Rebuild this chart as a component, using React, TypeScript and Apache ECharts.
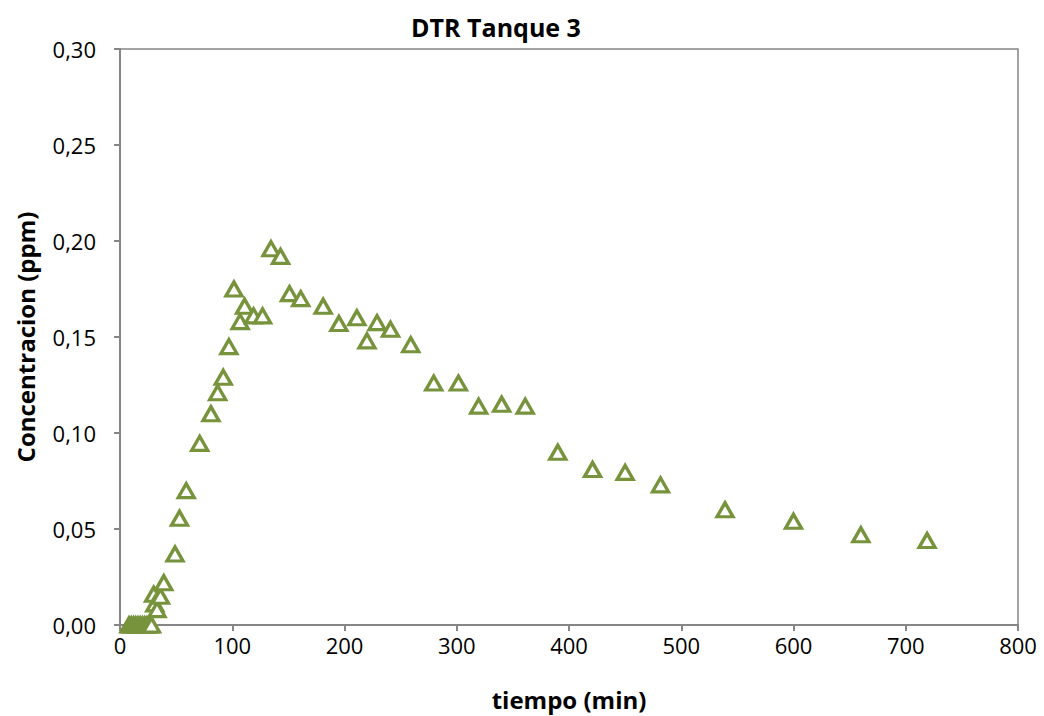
import React, { useEffect, useRef } from "react";
import * as echarts from "echarts";

const timeMin: number[] = [
  8, 10, 12, 14, 16, 18, 20, 22, 24, 26, 28,
  30, 31, 33, 36, 39, 49, 53, 59, 71, 81, 87, 92, 97, 101.5, 107, 111, 119, 127,
  134.5, 143, 151, 161, 181, 195, 211, 220, 229, 241, 259, 279.5, 301.5, 319.5,
  340, 361, 390, 421, 450, 481.5, 539, 600, 660, 719,
];
const concentration: number[] = [
  0, 0, 0, 0, 0, 0, 0, 0, 0, 0, 0,
  0.016, 0.011, 0.008, 0.015, 0.022, 0.037, 0.0556, 0.07, 0.0946, 0.11, 0.121, 0.129, 0.145, 0.175, 0.158, 0.166, 0.161, 0.161,
  0.196, 0.192, 0.1726, 0.17, 0.166, 0.157, 0.16, 0.148, 0.1575, 0.154, 0.146, 0.126, 0.126, 0.114,
  0.115, 0.114, 0.09, 0.081, 0.0795, 0.073, 0.06, 0.054, 0.047, 0.044,
];
const xTicks = { min: 0, max: 800, interval: 100 };
const yTicks = { min: 0, max: 0.3, interval: 0.05 };

const FONT = "'Open Sans', 'Noto Sans', sans-serif";
const AXIS_GRAY = "#868686";

export default function App() {
  const ref = useRef<HTMLDivElement>(null);
  useEffect(() => {
    if (!ref.current) return;
    const chart = echarts.init(ref.current, undefined, { renderer: "svg" });
    const data = timeMin.map((t, i) => [t, concentration[i]]);
    chart.setOption({
      animation: false,
      backgroundColor: "#ffffff",
      title: {
        text: "DTR Tanque 3",
        left: 491,
        textAlign: "center",
        top: 9,
        textStyle: { fontFamily: FONT, fontSize: 25, fontWeight: "bold", color: "#000" },
      },
      grid: {
        left: 120,
        right: 26,
        top: 49,
        bottom: 90,
        show: true,
        borderColor: AXIS_GRAY,
        borderWidth: 1.5,
        backgroundColor: "transparent",
      },
      xAxis: {
        type: "value",
        min: xTicks.min,
        max: xTicks.max,
        interval: xTicks.interval,
        name: "tiempo (min)",
        nameLocation: "middle",
        nameGap: 62,
        nameTextStyle: { fontFamily: FONT, fontSize: 24, fontWeight: "bold", color: "#000" },
        axisLine: { show: true, lineStyle: { color: AXIS_GRAY, width: 2 } },
        axisTick: { show: true, inside: false, length: 6, lineStyle: { color: AXIS_GRAY, width: 2 } },
        axisLabel: { fontFamily: FONT, fontSize: 22, color: "#000", margin: 9 },
        splitLine: { show: false },
      },
      yAxis: {
        type: "value",
        min: yTicks.min,
        max: yTicks.max,
        interval: yTicks.interval,
        name: "Concentracion (ppm)",
        nameLocation: "middle",
        nameGap: 83,
        nameRotate: 90,
        nameTextStyle: { fontFamily: FONT, fontSize: 24, fontWeight: "bold", color: "#000" },
        axisLine: { show: true, lineStyle: { color: AXIS_GRAY, width: 2 } },
        axisTick: { show: true, inside: false, length: 6, lineStyle: { color: AXIS_GRAY, width: 2 } },
        axisLabel: {
          fontFamily: FONT,
          fontSize: 22,
          color: "#000",
          margin: 24,
          formatter: (v: number) => v.toFixed(2).replace(".", ","),
        },
        splitLine: { show: false },
      },
      series: [
        {
          type: "scatter",
          data,
          symbol: "triangle",
          symbolSize: [16, 14],
          itemStyle: { color: "#ffffff", borderColor: "#77933C", borderWidth: 3.3, opacity: 1 },
          emphasis: { disabled: true },
        },
      ],
    });
    return () => chart.dispose();
  }, []);
  return <div ref={ref} style={{ width: 1044, height: 716, position: "absolute", left: 0, top: 0 }} />;
}
